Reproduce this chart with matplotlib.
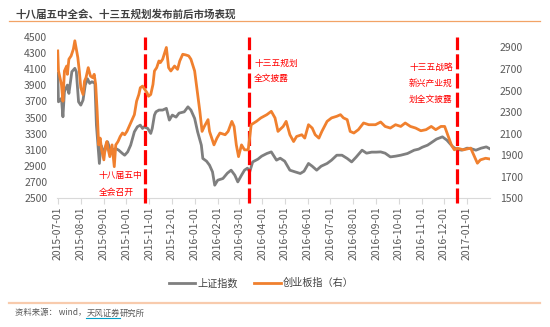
import matplotlib
matplotlib.use('Agg')
import matplotlib.pyplot as plt
import matplotlib.dates as mdates
import pandas as pd
from matplotlib.lines import Line2D

plt.rcParams['font.family'] = ['Noto Sans CJK SC', 'DejaVu Sans']

# 上证指数 (left axis)
sh_dates = ['2015-07-01', '2015-07-02', '2015-07-06', '2015-07-08', '2015-07-10', '2015-07-14',
            '2015-07-16', '2015-07-20', '2015-07-24', '2015-07-26', '2015-07-29', '2015-08-01',
            '2015-08-04', '2015-08-07', '2015-08-10', '2015-08-13', '2015-08-16', '2015-08-20',
            '2015-08-22', '2015-08-26', '2015-08-28', '2015-08-30', '2015-09-02', '2015-09-06',
            '2015-09-09', '2015-09-12', '2015-09-17', '2015-09-21', '2015-09-26', '2015-09-29',
            '2015-10-03', '2015-10-07', '2015-10-12', '2015-10-16', '2015-10-20', '2015-10-23',
            '2015-10-25', '2015-10-30', '2015-11-03', '2015-11-05', '2015-11-08', '2015-11-10',
            '2015-11-14', '2015-11-19', '2015-11-24', '2015-11-28', '2015-12-02', '2015-12-07',
            '2015-12-11', '2015-12-18', '2015-12-23', '2015-12-27', '2016-01-01', '2016-01-05',
            '2016-01-10', '2016-01-12', '2016-01-17', '2016-01-21', '2016-01-25', '2016-01-28',
            '2016-02-01', '2016-02-08', '2016-02-14', '2016-02-19', '2016-02-24', '2016-02-28',
            '2016-03-04', '2016-03-08', '2016-03-12', '2016-03-15', '2016-03-19', '2016-03-26',
            '2016-03-31', '2016-04-07', '2016-04-13', '2016-04-20', '2016-04-25', '2016-05-01',
            '2016-05-08', '2016-05-15', '2016-05-22', '2016-05-27', '2016-06-02', '2016-06-07',
            '2016-06-13', '2016-06-19', '2016-06-27', '2016-07-03', '2016-07-10', '2016-07-17',
            '2016-07-24', '2016-07-30', '2016-08-05', '2016-08-13', '2016-08-19', '2016-08-26',
            '2016-09-01', '2016-09-07', '2016-09-13', '2016-09-20', '2016-09-27', '2016-10-04',
            '2016-10-13', '2016-10-22', '2016-10-28', '2016-11-02', '2016-11-09', '2016-11-15',
            '2016-11-21', '2016-11-29', '2016-12-05', '2016-12-13', '2016-12-18', '2016-12-25',
            '2017-01-01', '2017-01-06', '2017-01-13', '2017-01-20', '2017-01-27', '2017-01-31']
sh_vals = [4047, 3695, 3737, 3510, 3819, 3902,
           3799, 4067, 4109, 4067, 3695, 3654,
           3716, 3902, 3980, 3923, 3943, 3923,
           3407, 2933, 3159, 3118, 3076, 3200,
           3118, 3097, 3118, 3097, 3056, 3035,
           3076, 3159, 3324, 3386, 3407, 3366,
           3386, 3366, 3304, 3366, 3531, 3571,
           3593, 3593, 3614, 3469, 3531, 3506,
           3555, 3571, 3633, 3593, 3490, 3324,
           3159, 2995, 2961, 2912, 2829, 2664,
           2726, 2747, 2813, 2850, 2788, 2705,
           2788, 2850, 2875, 2829, 2952, 2986,
           3023, 3056, 3076, 2974, 2998, 2961,
           2850, 2829, 2809, 2837, 2933, 2899,
           2850, 2899, 2933, 2974, 3035, 3035,
           2995, 2952, 3011, 3097, 3060, 3073,
           3073, 3076, 3060, 3014, 3023, 3035,
           3056, 3097, 3110, 3134, 3159, 3196,
           3234, 3262, 3221, 3138, 3110, 3097,
           3122, 3118, 3097, 3122, 3138, 3118]

# 创业板指 (right axis)
cy_dates = ['2015-07-01', '2015-07-02', '2015-07-06', '2015-07-08', '2015-07-10', '2015-07-13',
            '2015-07-14', '2015-07-16', '2015-07-19', '2015-07-22', '2015-07-24', '2015-07-26',
            '2015-07-28', '2015-07-30', '2015-08-01', '2015-08-04', '2015-08-06', '2015-08-08',
            '2015-08-11', '2015-08-14', '2015-08-17', '2015-08-19', '2015-08-21', '2015-08-23',
            '2015-08-25', '2015-08-27', '2015-08-29', '2015-09-01', '2015-09-03', '2015-09-05',
            '2015-09-07', '2015-09-09', '2015-09-12', '2015-09-15', '2015-09-17', '2015-09-20',
            '2015-09-23', '2015-09-26', '2015-09-29', '2015-10-02', '2015-10-05', '2015-10-08',
            '2015-10-12', '2015-10-15', '2015-10-18', '2015-10-20', '2015-10-23', '2015-10-26',
            '2015-10-29', '2015-10-31', '2015-11-03', '2015-11-06', '2015-11-08', '2015-11-11',
            '2015-11-14', '2015-11-16', '2015-11-19', '2015-11-24', '2015-11-27', '2015-11-30',
            '2015-12-05', '2015-12-09', '2015-12-12', '2015-12-16', '2015-12-20', '2015-12-24',
            '2015-12-27', '2016-01-01', '2016-01-05', '2016-01-08', '2016-01-11', '2016-01-14',
            '2016-01-19', '2016-01-21', '2016-01-27', '2016-01-31', '2016-02-04', '2016-02-11',
            '2016-02-15', '2016-02-20', '2016-02-23', '2016-02-26', '2016-02-29', '2016-03-04',
            '2016-03-08', '2016-03-13', '2016-03-17', '2016-03-24', '2016-03-30', '2016-04-07',
            '2016-04-13', '2016-04-18', '2016-04-22', '2016-04-29', '2016-05-03', '2016-05-08',
            '2016-05-13', '2016-05-17', '2016-05-24', '2016-05-28', '2016-06-02', '2016-06-07',
            '2016-06-11', '2016-06-16', '2016-06-20', '2016-06-27', '2016-07-03', '2016-07-10',
            '2016-07-15', '2016-07-19', '2016-07-24', '2016-07-28', '2016-08-02', '2016-08-08',
            '2016-08-15', '2016-08-22', '2016-08-31', '2016-09-07', '2016-09-13', '2016-09-20',
            '2016-09-27', '2016-10-04', '2016-10-10', '2016-10-17', '2016-10-24', '2016-10-31',
            '2016-11-07', '2016-11-14', '2016-11-20', '2016-11-27', '2016-12-02', '2016-12-06',
            '2016-12-11', '2016-12-15', '2016-12-19', '2016-12-27', '2017-01-06', '2017-01-10',
            '2017-01-15', '2017-01-19', '2017-01-26', '2017-01-31']
cy_vals = [2868, 2682, 2557, 2402, 2682, 2728,
           2651, 2791, 2822, 2884, 2962, 2884,
           2807, 2682, 2527, 2464, 2588, 2620,
           2713, 2635, 2620, 2651, 2557, 2308,
           1997, 2060, 1951, 1858, 1982, 2028,
           1951, 1888, 1997, 1795, 1997, 2028,
           2075, 2107, 2091, 2122, 2168, 2215,
           2277, 2402, 2464, 2527, 2542, 2511,
           2480, 2448, 2464, 2557, 2682, 2713,
           2775, 2760, 2791, 2900, 2713, 2682,
           2728, 2697, 2775, 2837, 2831, 2822,
           2791, 2682, 2464, 2308, 2122, 2168,
           2231, 2122, 1997, 2060, 2107, 2091,
           2122, 2215, 2168, 1997, 1888, 1997,
           1951, 1951, 2184, 2215, 2247, 2277,
           2308, 2247, 2122, 2168, 2215, 2091,
           2028, 2075, 2091, 2060, 2184, 2153,
           2091, 2060, 2122, 2215, 2247, 2262,
           2277, 2247, 2231, 2122, 2107, 2138,
           2200, 2184, 2184, 2209, 2168, 2153,
           2184, 2168, 2200, 2168, 2153, 2128,
           2138, 2168, 2138, 2168, 2168, 2091,
           1997, 1951, 1967, 1951, 1967, 1904,
           1827, 1858, 1873, 1867]

event_dates = ['2015-10-26', '2016-03-14', '2016-12-19']
left_ticks = list(range(2500, 4501, 200))
right_ticks = list(range(1500, 3000, 200))

gray = '#7F7F7F'
orange = '#F0802E'
red = '#FF0000'
txt = '#595959'

fig = plt.figure(figsize=(5.5, 3.27), dpi=100)
ax = fig.add_axes([0.1036, 0.393, 0.7874, 0.4948])
ax2 = ax.twinx()

l1, = ax.plot(pd.to_datetime(sh_dates), sh_vals, color=gray, lw=2, label='上证指数')
l2, = ax2.plot(pd.to_datetime(cy_dates), cy_vals, color=orange, lw=2, label='创业板指（右）')

for d in event_dates:
    ax.axvline(pd.Timestamp(d), ymin=-0.03, ymax=1.0, color=red, lw=2.3,
               dashes=(4.7, 1.3), clip_on=False, zorder=5)

ax.set_ylim(2500, 4500)
ax.set_yticks(left_ticks)
ax2.set_ylim(1500, 3000)
ax2.set_yticks(right_ticks)
ax.set_xlim(pd.Timestamp('2015-06-30'), pd.Timestamp('2017-02-01'))
ax.xaxis.set_major_locator(mdates.MonthLocator())
ax.xaxis.set_major_formatter(mdates.DateFormatter('%Y-%m-%d'))
ticks = pd.date_range('2015-07-01', '2017-01-01', freq='MS')
ax.set_xticks(ticks)
ax.set_xticklabels([t.strftime('%Y-%m-%d') for t in ticks], rotation=90)

for a in (ax, ax2):
    for s in a.spines.values():
        s.set_visible(False)
    a.tick_params(axis='y', length=0, labelsize=7.5, colors=txt, pad=7)
ax.spines['bottom'].set_visible(True)
ax.spines['bottom'].set_color('#D9D9D9')
ax.tick_params(axis='x', length=4, color='#D9D9D9', labelsize=7.5, labelcolor=txt, pad=2)

# event labels
labels = [
    (0.0954, 'left', [('十八届五中', 0.139), ('全会召开', 0.036)]),
    (0.455, 'left', [('十三五规划', 0.836), ('全文披露', 0.739)]),
    (0.914, 'right', [('十三五战略', 0.808), ('新兴产业规', 0.712), ('划全文披露', 0.609)]),
]
for xf, ha, rows in labels:
    for s, yf in rows:
        ax.text(xf, yf, s, transform=ax.transAxes, ha=ha, va='center',
                fontsize=6.3, color=red, zorder=6)

fig.legend([l1, l2], ['上证指数', '创业板指（右）'], loc='center', bbox_to_anchor=(0.475, 0.134),
           ncol=2, frameon=False, fontsize=7.3, handlelength=2.6, columnspacing=1.6,
           handletextpad=0.2, labelcolor='#404040')

fig.text(15 / 550, 1 - 14 / 327, '十八届五中全会、十三五规划发布前后市场表现', fontsize=7.6,
         fontweight='bold', color='#404040', va='center', ha='left')
fig.add_artist(Line2D([9 / 550, 540 / 550], [1 - 21 / 327, 1 - 21 / 327], color='#F2A366', lw=0.9))
fig.add_artist(Line2D([9 / 550, 540 / 550], [1 - 302.7 / 327, 1 - 302.7 / 327], color='#F8CBAD', lw=1.6))

# source line, with underlined part
fig.canvas.draw()
r = fig.canvas.get_renderer()
y_src = 1 - 313 / 327
t1 = fig.text(15 / 550, y_src, '资料来源： wind，', fontsize=6, color=txt, va='center')
bb = t1.get_window_extent(r)
t2 = fig.text(bb.x1 / fig.bbox.width, y_src, '天风证券', fontsize=6, color=txt, va='center')
bb2 = t2.get_window_extent(r)
fig.text(bb2.x1 / fig.bbox.width, y_src, '研究所', fontsize=6, color=txt, va='center')
uy = bb2.y0 / fig.bbox.height
fig.add_artist(Line2D([bb2.x0 / fig.bbox.width, bb2.x1 / fig.bbox.width], [uy, uy], color='#00A0C8', lw=0.8))

fig.savefig('out.png', dpi=100)
